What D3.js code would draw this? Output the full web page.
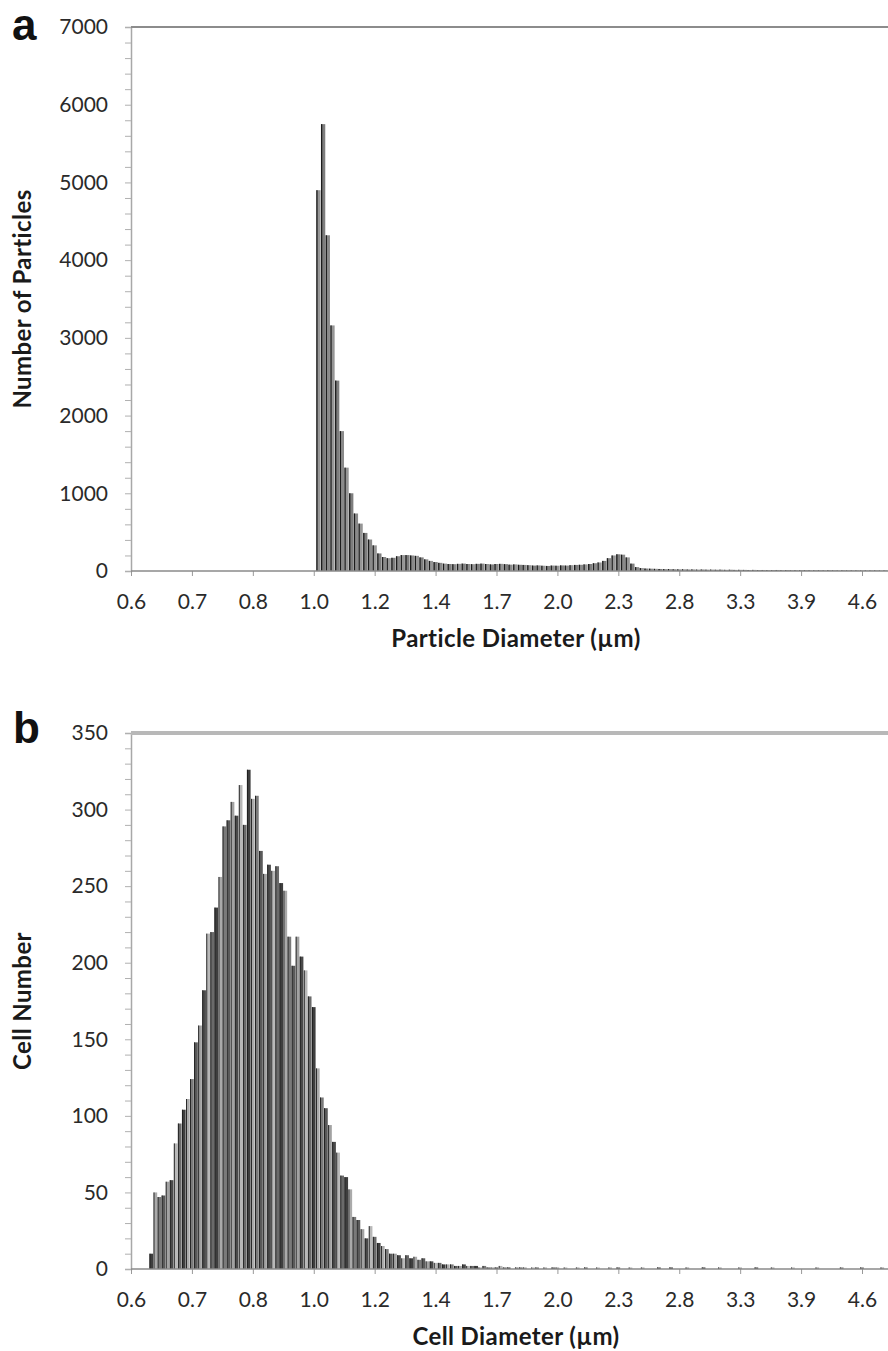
<!DOCTYPE html>
<html>
<head>
<meta charset="utf-8">
<script src="https://cdn.jsdelivr.net/npm/d3@7"></script>
<style>
  body { margin: 0; background: #fff; }
  svg { display: block; }
  .tick text { font-family: Lato, "Open Sans", sans-serif; font-size: 21px; fill: #2a2a2a; }
  .axis-title { font-family: Lato, "Open Sans", sans-serif; font-size: 24px; font-weight: bold; fill: #1a1a1a; letter-spacing: 0.4px; }
  .panel-letter { font-family: "Liberation Sans", Arial, sans-serif; font-size: 44px; font-weight: bold; fill: #111; }
</style>
</head>
<body>
<div id="chart"></div>
<script>
// x axis labels, shared by both panels (log-spaced diameter bins, µm)
const tickLabels = ['0.6', '0.7', '0.8', '1.0', '1.2', '1.4', '1.7', '2.0', '2.3', '2.8', '3.3', '3.9', '4.6'];

// panel a: particle counts per bin
const particleBinsPerLabel = 13;
const particleYLabels = [0, 1000, 2000, 3000, 4000, 5000, 6000, 7000];
const particleCounts = [
  0, 0, 0, 0, 0, 0, 0, 0, 0, 0,
  0, 0, 0, 0, 0, 0, 0, 0, 0, 0,
  0, 0, 0, 0, 0, 0, 0, 0, 0, 0,
  0, 0, 0, 0, 0, 0, 0, 0, 0, 0,
  4900, 5750, 4320, 3160, 2450, 1800, 1330, 1000, 740, 610, 490, 405, 330,
  226, 180, 165, 170, 190, 205, 205, 200, 195, 175, 150, 130,
  115, 105, 95, 90, 88, 92, 95, 90, 88, 92, 95, 90, 85, 90, 92, 88, 82, 85, 80, 78,
  75, 70, 72, 68, 65, 70, 68, 72, 70, 75, 78, 80, 85, 90, 100,
  110, 130, 165, 200, 215, 210, 175, 95, 50, 38, 32, 30, 28,
  26, 24, 25, 22, 21, 22, 19, 20, 18, 19, 17, 18, 16, 17, 15, 16, 14, 15, 14, 13,
  14, 12, 13, 12, 11, 13, 11, 12, 10, 11, 10, 11, 10, 9, 10, 9, 10, 9, 8, 9,
  8, 9, 8, 7, 8, 7, 8, 7, 7
];

// panel b: cell counts per bin
const cellBinsPerLabel = 15;
const cellYLabels = [0, 50, 100, 150, 200, 250, 300, 350];
const cellCounts = [
  0, 0, 0, 0, 0,
  10, 50, 47, 48, 57, 58, 82, 95, 104, 111, 124, 148, 159,
  182, 219, 220, 236, 256, 289, 293, 305, 296, 316, 290, 326, 307, 309, 273, 258, 264, 260, 263, 252, 247, 217, 198, 217, 204, 195, 178,
  171, 131, 112, 105, 94, 83, 76, 61, 60, 52, 34, 32, 26, 20, 28, 21, 17, 15, 13, 10, 10, 9, 7, 9, 7, 8,
  6, 7, 5, 5, 4, 4, 3, 3, 3, 2, 2, 3, 2, 2, 2,
  1, 2, 1, 1, 1, 2, 1, 1, 0, 1,
  1, 1, 0, 1, 1, 0, 1, 0, 1, 1,
  0, 1, 0, 0, 1, 0, 1, 0, 0, 1,
  0, 0, 1, 0, 1, 0, 0, 1, 0, 0,
  1, 0, 0, 0, 1, 0, 0, 1, 0, 0,
  0, 1, 0, 0, 0, 1, 0, 0, 0, 1,
  0, 0, 0, 0, 1, 0, 0, 0, 1, 0,
  0, 0, 1, 0, 0, 0, 0, 1, 0, 0,
  0, 0, 0, 1, 0, 0, 0, 0, 0, 1,
  0, 0, 0, 0, 1, 0, 0, 0, 0, 1,
  0
];

const width = 888, height = 1351;
const plotLeft = 131, plotRight = 888, lastLabelX = 862;

const svg = d3.select('#chart').append('svg')
  .attr('width', width)
  .attr('height', height);

function drawPanel(p) {
  const x = d3.scaleLinear()
    .domain([0, (tickLabels.length - 1) * p.binsPerLabel])
    .range([plotLeft, lastLabelX]);
  const y = d3.scaleLinear()
    .domain([0, p.yMax])
    .range([p.bottom, p.top]);
  const step = x(1) - x(0);

  const g = svg.append('g');

  // bars: grey fill with a dark left edge
  const bar = g.append('g').selectAll('g')
    .data(p.values.map((v, i) => ({ i, v })).filter(d => d.v > 0))
    .join('g');

  bar.append('rect')
    .attr('x', d => x(d.i) - step / 2 + 0.2)
    .attr('width', step - 0.4)
    .attr('y', d => y(d.v))
    .attr('height', d => y(0) - y(d.v))
    .attr('fill', d => p.palette[d.i % p.palette.length]);

  bar.append('rect')
    .attr('x', d => x(d.i) - step / 2 + 0.2)
    .attr('width', p.edgeWidth)
    .attr('y', d => y(d.v))
    .attr('height', d => y(0) - y(d.v))
    .attr('fill', '#1c1c1c');

  // y axis, minor ticks unlabeled
  const yAxis = d3.axisLeft(y)
    .tickValues(d3.range(0, p.yMax + 1, p.yMinor))
    .tickSize(6)
    .tickPadding(17)
    .tickFormat(d => p.yLabels.includes(d) ? d : '');

  g.append('g')
    .attr('class', 'y axis')
    .attr('transform', 'translate(' + plotLeft + ',0)')
    .call(yAxis)
    .call(a => a.select('.domain').attr('stroke', '#a8a8a8').attr('stroke-width', 1.5))
    .call(a => a.selectAll('.tick line').attr('stroke', '#b0b0b0'));

  // x axis
  const xAxis = d3.axisBottom(x)
    .tickValues(tickLabels.map((_, k) => k * p.binsPerLabel))
    .tickFormat((d, k) => tickLabels[k])
    .tickSize(5)
    .tickPadding(18);

  g.append('g')
    .attr('class', 'x axis')
    .attr('transform', 'translate(0,' + y(0) + ')')
    .call(xAxis)
    .call(a => a.select('.domain').remove())
    .call(a => a.selectAll('.tick line').attr('stroke', '#999'));

  g.append('line')
    .attr('x1', plotLeft).attr('x2', plotRight)
    .attr('y1', y(0)).attr('y2', y(0))
    .attr('stroke', '#8a8a8a')
    .attr('stroke-width', 1.5);

  // top border of the plot area
  g.append('line')
    .attr('x1', plotLeft).attr('x2', plotRight)
    .attr('y1', y(p.yMax)).attr('y2', y(p.yMax))
    .attr('stroke', p.borderColor)
    .attr('stroke-width', p.borderWidth);

  // titles
  g.append('text')
    .attr('class', 'axis-title')
    .attr('x', 516)
    .attr('y', y(0) + 76)
    .attr('text-anchor', 'middle')
    .text(p.xTitle);

  g.append('text')
    .attr('class', 'axis-title')
    .attr('transform', 'translate(31,' + (p.top + p.bottom) / 2 + ') rotate(-90)')
    .attr('text-anchor', 'middle')
    .text(p.yTitle);

  g.append('text')
    .attr('class', 'panel-letter')
    .attr('x', p.letterX)
    .attr('y', p.letterY)
    .text(p.letter);
}

drawPanel({
  letter: 'a', letterX: 12, letterY: 40,
  top: 27, bottom: 571,
  values: particleCounts,
  binsPerLabel: particleBinsPerLabel,
  yMax: 7000, yMinor: 200, yLabels: particleYLabels,
  yTitle: 'Number of Particles',
  xTitle: 'Particle Diameter (\u00b5m)',
  palette: ['#8a8a8a', '#969696', '#7e7e7e'],
  edgeWidth: 1.3,
  borderColor: '#8c8c8c', borderWidth: 2
});

drawPanel({
  letter: 'b', letterX: 13, letterY: 743,
  top: 733, bottom: 1269,
  values: cellCounts,
  binsPerLabel: cellBinsPerLabel,
  yMax: 350, yMinor: 10, yLabels: cellYLabels,
  yTitle: 'Cell Number',
  xTitle: 'Cell Diameter (\u00b5m)',
  palette: ['#5a5a5a', '#a2a2a2', '#4a4a4a', '#b8b8b8', '#6a6a6a', '#3e3e3e', '#aaaaaa', '#7a7a7a'],
  edgeWidth: 0.9,
  borderColor: '#b8b8b8', borderWidth: 4
});
</script>
</body>
</html>
